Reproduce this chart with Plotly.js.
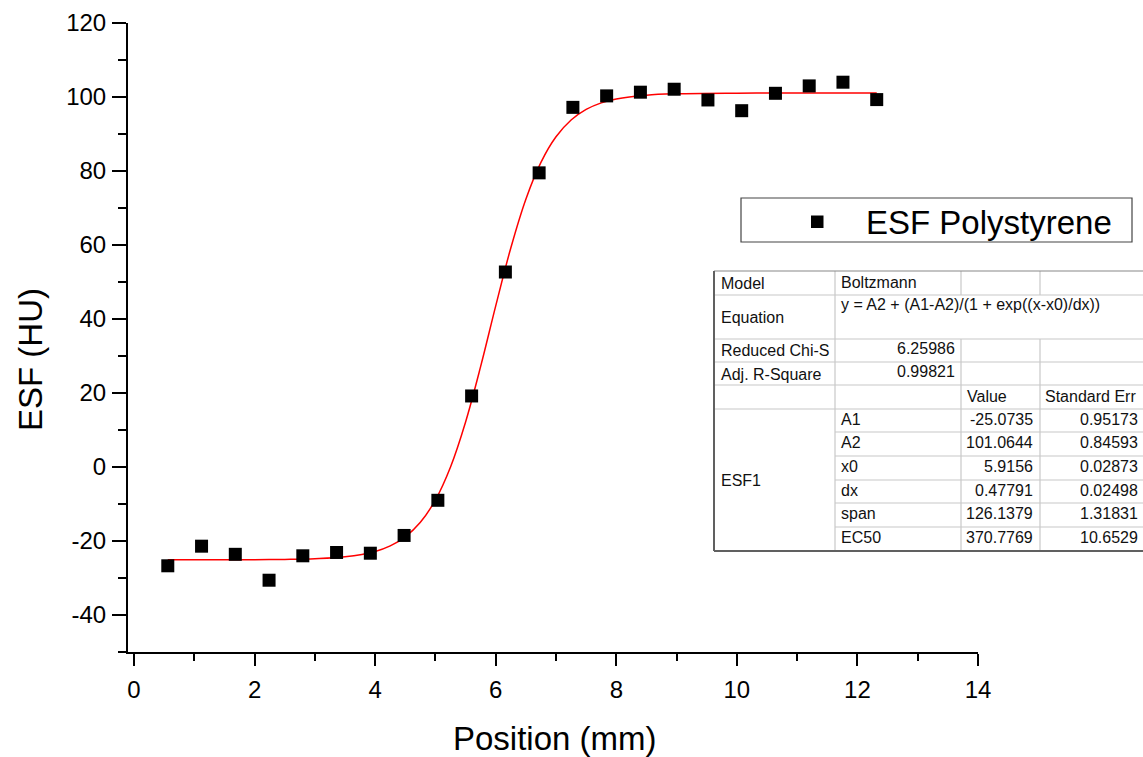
<!DOCTYPE html>
<html>
<head>
<meta charset="utf-8">
<script src="https://cdn.plot.ly/plotly-3.0.1.min.js"></script>
<style>
html,body{margin:0;padding:0;background:#fff;}
#chart{width:1143px;height:757px;}
</style>
</head>
<body>
<div id="chart"></div>
<script>
// ---- data ----
const positions = [0.56, 1.12, 1.68, 2.24, 2.80, 3.36, 3.92, 4.48, 5.04, 5.60, 6.16,
                   6.72, 7.28, 7.84, 8.40, 8.96, 9.52, 10.08, 10.64, 11.20, 11.76, 12.32];
const esfValues = [-26.7, -21.4, -23.6, -30.6, -24.0, -23.1, -23.3, -18.5, -9.0, 19.2, 52.7,
                   79.5, 97.2, 100.3, 101.3, 102.1, 99.2, 96.3, 101.0, 103.0, 104.0, 99.3];
// Boltzmann fit curve (sampled)
const fitX = [0.56, 1.5, 2.0, 2.5, 3.0, 3.5, 4.0, 4.25, 4.5, 4.75, 5.0, 5.25, 5.5, 5.75,
              6.0, 6.25, 6.5, 6.75, 7.0, 7.25, 7.5, 7.75, 8.0, 8.5, 9.0, 10.0, 11.0, 12.32];
const fitY = [-25.07, -25.07, -25.04, -24.97, -24.79, -24.27, -22.82, -21.32, -18.87, -14.95,
              -8.89, 0.02, 12.18, 27.18, 43.55, 59.20, 72.38, 82.33, 89.24, 93.78, 96.64,
              98.41, 99.48, 100.50, 100.87, 101.04, 101.06, 101.06];
const seriesName = "ESF Polystyrene";
const xTitle = "Position (mm)";
const yTitle = "ESF (HU)";
const xTickVals = [0, 2, 4, 6, 8, 10, 12, 14];
const xTickText = ["0", "2", "4", "6", "8", "10", "12", "14"];
const yTickVals = [-40, -20, 0, 20, 40, 60, 80, 100, 120];
const yTickText = ["-40", "-20", "0", "20", "40", "60", "80", "100", "120"];
// fit report table
const tableRowLabels = ["Model", "Equation", "Reduced Chi-S", "Adj. R-Square"];
const tableRowValues = ["Boltzmann", "y = A2 + (A1-A2)/(1 + exp((x-x0)/dx))", "6.25986", "0.99821"];
const tableHeaders = ["Value", "Standard Err"];
const groupName = "ESF1";
const paramNames = ["A1", "A2", "x0", "dx", "span", "EC50"];
const paramValues = ["-25.0735", "101.0644", "5.9156", "0.47791", "126.1379", "370.7769"];
const paramErrors = ["0.95173", "0.84593", "0.02873", "0.02498", "1.31831", "10.6529"];

// ---- layout geometry (pixels) ----
const W = 1143, H = 757;
const L = 128, R = 165, T = 23, B = 105;
const PW = W - L - R, PH = H - T - B;
const px = v => (v - L) / PW;
const py = v => (H - B - v) / PH;
const FONT = "Arial, 'Liberation Sans', sans-serif";

const shapes = [];
const annotations = [];

function line(x0, y0, x1, y1, color, width) {
  shapes.push({type: 'line', xref: 'paper', yref: 'paper',
    x0: px(x0), y0: py(y0), x1: px(x1), y1: py(y1),
    line: {color: color, width: width}});
}
function text(t, x, y, anchor, size, extra) {
  annotations.push(Object.assign({xref: 'paper', yref: 'paper', x: px(x), y: py(y),
    text: t, showarrow: false, xanchor: anchor, yanchor: 'middle',
    font: {family: FONT, size: size, color: '#111'}}, extra || {}));
}

// legend box
shapes.push({type: 'rect', xref: 'paper', yref: 'paper',
  x0: px(741), x1: px(1132), y0: py(198), y1: py(242),
  line: {color: '#444', width: 1.2}, fillcolor: '#fff'});
shapes.push({type: 'rect', xref: 'paper', yref: 'paper',
  x0: px(811), x1: px(823.5), y0: py(215.5), y1: py(228),
  line: {width: 0}, fillcolor: '#000'});
text(seriesName, 864, 222, 'left', 33, {font: {family: FONT, size: 33, color: '#000'}});

// table
const tL = 714, tR = 1145, c2 = 835, c3 = 961, c4 = 1040;
const rows = [271, 295, 339, 362, 385, 409, 432, 456, 480, 503, 527, 551];
const light = '#c8c8c8', dark = '#606060';
shapes.push({type: 'rect', xref: 'paper', yref: 'paper',
  x0: px(tL), x1: px(tR), y0: py(rows[0]), y1: py(rows[11]),
  line: {width: 0}, fillcolor: '#fff'});
for (let i = 1; i <= 5; i++) line(tL, rows[i], tR, rows[i], light, 1.2);
for (let i = 6; i <= 10; i++) line(c2, rows[i], tR, rows[i], light, 1.2);
line(c2, rows[0], c2, rows[11], light, 1.2);
[c3, c4].forEach(c => { line(c, rows[0], c, rows[1], light, 1.2); line(c, rows[2], c, rows[11], light, 1.2); });
line(tL, rows[0], tR, rows[0], '#888', 1.2);
line(tL, rows[0], tL, rows[11], dark, 2);
line(tL, rows[11], tR, rows[11], dark, 2);

text(tableRowLabels[0], 719, 283, 'left', 16);
text(tableRowLabels[1], 719, 317, 'left', 16);
text(tableRowLabels[2], 719, 350, 'left', 16);
text(tableRowLabels[3], 719, 374, 'left', 16);
text(tableRowValues[0], 839, 282, 'left', 16);
text(tableRowValues[1], 839, 305, 'left', 16);
text(tableRowValues[2], 957, 348, 'right', 16);
text(tableRowValues[3], 957, 371, 'right', 16);
text(tableHeaders[0], 965, 396, 'left', 16);
text(tableHeaders[1], 1043, 396, 'left', 16);
text(groupName, 719, 480, 'left', 16);
const prow = [419, 442, 466, 490, 513, 537];
for (let i = 0; i < paramNames.length; i++) {
  text(paramNames[i], 839, prow[i], 'left', 16);
  text(paramValues[i], 1035, prow[i], 'right', 16);
  text(paramErrors[i], 1140, prow[i], 'right', 16);
}

// axis titles
text(xTitle, 555, 738, 'center', 33, {font: {family: FONT, size: 33, color: '#000'}});
text(yTitle, 30, 360, 'center', 33, {textangle: -90, font: {family: FONT, size: 33, color: '#000'}});

const traces = [
  {x: fitX, y: fitY, type: 'scatter', mode: 'lines', line: {color: '#ff0000', width: 1.5, shape: 'spline'},
   showlegend: false, hoverinfo: 'skip'},
  {x: positions, y: esfValues, type: 'scatter', mode: 'markers', name: seriesName,
   marker: {symbol: 'square', size: 13, color: '#000'}, showlegend: false}
];

const layout = {
  width: W, height: H,
  margin: {l: L, r: R, t: T, b: B, pad: 0},
  paper_bgcolor: '#fff', plot_bgcolor: '#fff',
  font: {family: FONT, color: '#000'},
  showlegend: false,
  xaxis: {
    range: [-0.1, 14], showgrid: false, zeroline: false,
    showline: true, linecolor: '#000', linewidth: 2,
    ticks: 'outside', ticklen: 12, tickwidth: 2, tickcolor: '#000',
    tickmode: 'array', tickvals: xTickVals, ticktext: xTickText,
    minor: {tickmode: 'linear', dtick: 1, tick0: 0, ticks: 'outside', ticklen: 7, tickwidth: 2, tickcolor: '#000', showgrid: false},
    tickfont: {family: FONT, size: 24, color: '#000'},
    ticklabelstandoff: 3
  },
  yaxis: {
    range: [-50, 120], showgrid: false, zeroline: false,
    showline: true, linecolor: '#000', linewidth: 2,
    ticks: 'outside', ticklen: 14, tickwidth: 2, tickcolor: '#000',
    tickmode: 'array', tickvals: yTickVals, ticktext: yTickText,
    minor: {tickmode: 'linear', dtick: 10, tick0: 0, ticks: 'outside', ticklen: 8, tickwidth: 2, tickcolor: '#000', showgrid: false},
    tickfont: {family: FONT, size: 24, color: '#000'},
    ticklabelstandoff: 1
  },
  shapes: shapes,
  annotations: annotations
};

Plotly.newPlot('chart', traces, layout, {staticPlot: true, displayModeBar: false});
</script>
</body>
</html>
